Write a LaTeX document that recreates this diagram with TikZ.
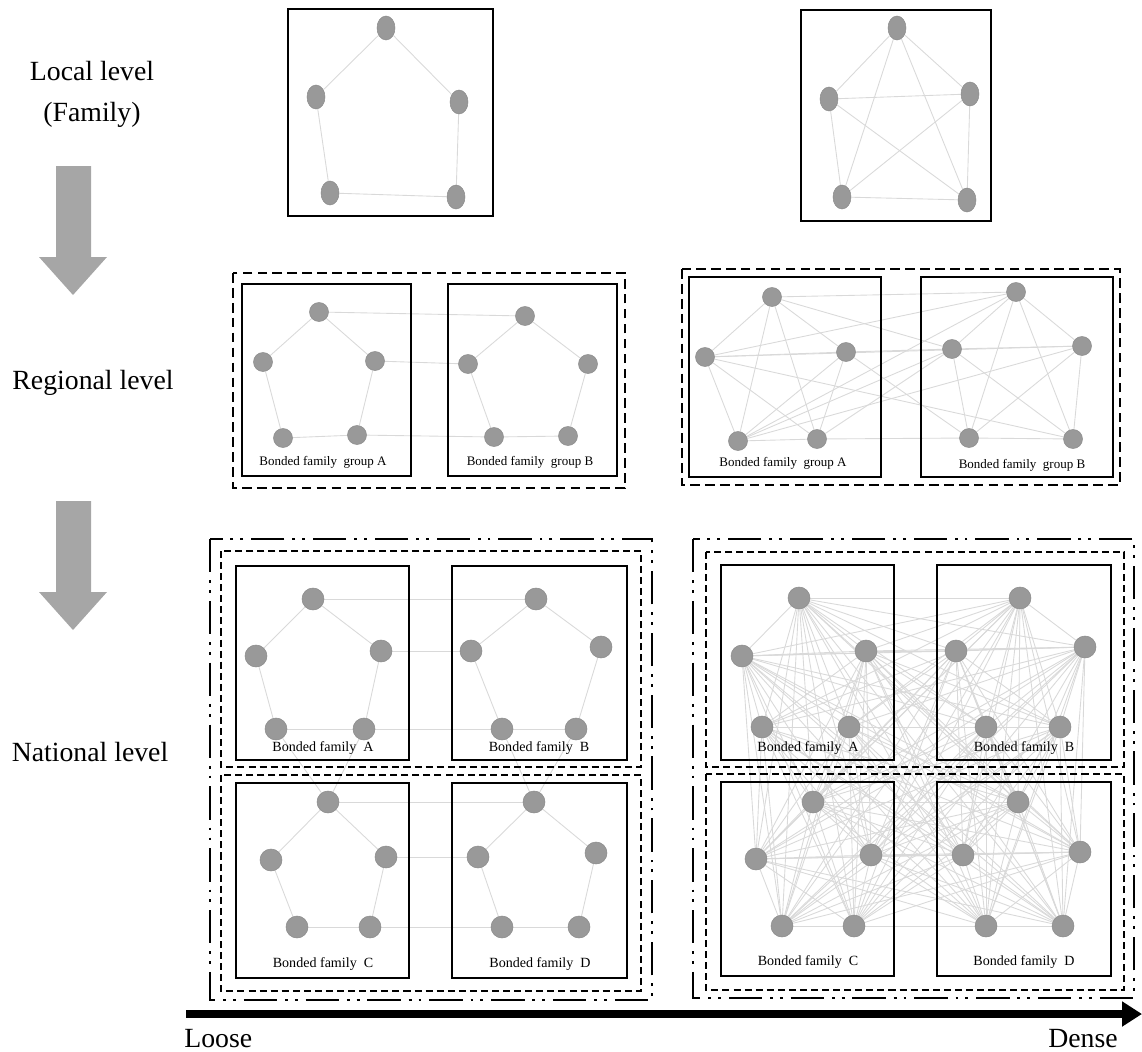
\documentclass[tikz,border=0pt]{standalone}
\usepackage{fontspec}
\setmainfont{Liberation Serif}
\usepackage{xcolor}
\usepackage{tikz}
\usetikzlibrary{arrows.meta,positioning,shapes.geometric,backgrounds}

\definecolor{nodegray}{HTML}{999999}
\definecolor{rimgray}{HTML}{8C8C8C}
\definecolor{edgegray}{HTML}{D9D9D9}
\definecolor{arrowgray}{HTML}{A6A6A6}

\begin{document}
\begin{tikzpicture}[x=0.02cm,y=-0.02cm,
  dot/.style={circle,fill=nodegray,draw=rimgray,line width=0.3pt,inner sep=0pt,minimum size=#1},
  egg/.style={ellipse,fill=nodegray,draw=rimgray,line width=0.3pt,inner sep=0pt,minimum width=0.36cm,minimum height=0.48cm},
  edge/.style={draw=edgegray,line width=0.5pt},
  frame/.style={draw=black,line width=1.6pt},
  grpbox/.style={draw=black,line width=1.6pt,dash pattern=on 5.5pt off 3pt},
  pairbox/.style={draw=black,line width=1pt,dash pattern=on 4pt off 2.3pt},
  nationbox/.style={draw=black,line width=1.6pt,dash pattern=on 19pt off 4.5pt on 1.6pt off 4pt on 1.6pt off 4.5pt},
  lvl/.style={font=\fontsize{15.8}{19}\selectfont,inner sep=0pt},
  tag/.style={font=\fontsize{8}{9}\selectfont,inner sep=0pt},
  tagsm/.style={font=\fontsize{7.4}{9}\selectfont,inner sep=0pt}]
\useasboundingbox (0,0) rectangle (1142,1051);

% level names
\node[lvl,anchor=base] (local) at (92,81) {Local level};
\node[lvl,anchor=base] (family) at (92,121) {(Family)};
\node[lvl,anchor=base] (regional) at (93,389) {Regional level};
\node[lvl,anchor=base] (national) at (90,761) {National level};

% grey arrows between levels
\foreach \t in {166,501}{
  \fill[arrowgray] (56,\t) -- (91,\t) -- (91,\t+91) -- (107,\t+91) -- (73,\t+129)
    -- (39,\t+91) -- (56,\t+91) -- cycle;
}

% local level
\draw[frame] (288,9) rectangle (493,216);
\draw[frame] (801,10) rectangle (991,221);
\foreach \n/\x/\y in {L1/386/28,L2/316/97,L3/459/102,L4/330/193,L5/456/197,
                      D1/897/28,D2/829/99,D3/970/94,D4/842/197,D5/967/200}{
  \node[egg] (\n) at (\x,\y) {};
}

% regional level
\draw[grpbox] (233,273) rectangle (625,488);
\draw[frame] (242,284) rectangle (411,476);
\draw[frame] (448,284) rectangle (617,476);
\draw[grpbox] (682,269) rectangle (1120,485);
\draw[frame] (689,277) rectangle (881,477);
\draw[frame] (921,277) rectangle (1113,477);
\foreach \n/\x/\y in {ra1/319/312,ra2/263/362,ra3/375/361,ra4/283/438,ra5/357/435,
                      rb1/525/316,rb2/468/364,rb3/588/364,rb4/494/437,rb5/568/436,
                      sa1/772/297,sa2/705/357,sa3/846/352,sa4/738/441,sa5/817/439,
                      sb1/1016/292,sb2/952/349,sb3/1082/346,sb4/969/438,sb5/1073/439}{
  \node[dot=0.38cm] (\n) at (\x,\y) {};
}
\node[tagsm] (labra) at (323,462) {Bonded family~ group A};
\node[tagsm] (labrb) at (530,462) {Bonded family~ group B};
\node[tagsm] (labsa) at (783,463) {Bonded family~ group A};
\node[tagsm] (labsb) at (1022,465) {Bonded family~ group B};

% national level
\draw[nationbox] (210,539) rectangle (652,1000);
\draw[pairbox] (221,551) rectangle (641,767);
\draw[pairbox] (221,775) rectangle (641,991);
\draw[nationbox] (693,539) rectangle (1134,998);
\draw[pairbox] (706,552) rectangle (1124,767);
\draw[pairbox] (706,774) rectangle (1124,990);
\foreach \xa/\xb/\ya/\yb in {236/409/566/760,452/627/566/760,236/409/783/978,452/627/783/978,
                             721/894/565/760,937/1111/565/760,721/894/782/976,937/1111/782/976}{
  \draw[frame] (\xa,\ya) rectangle (\xb,\yb);
}
\foreach \n/\x/\y in {na1/313/599,na2/256/656,na3/381/651,na4/276/729,na5/364/729,
                      nb1/536/599,nb2/471/651,nb3/601/647,nb4/502/729,nb5/576/729,
                      nc1/328/802,nc2/271/860,nc3/386/857,nc4/297/927,nc5/370/927,
                      nd1/534/802,nd2/478/857,nd3/596/853,nd4/502/927,nd5/579/927,
                      d1/799/598,d2/742/656,d3/866/651,d4/762/727,d5/849/727,
                      d6/1020/598,d7/956/651,d8/1085/647,d9/986/727,d10/1060/727,
                      d11/813/802,d12/756/859,d13/871/855,d14/782/926,d15/854/926,
                      d16/1018/802,d17/963/855,d18/1080/852,d19/986/926,d20/1063/926}{
  \node[dot=0.44cm] (\n) at (\x,\y) {};
}
\node[tag] (labna) at (323,748) {Bonded family~ A};
\node[tag] (labnb) at (539,748) {Bonded family~ B};
\node[tag] (labnc) at (323,964) {Bonded family~ C};
\node[tag] (labnd) at (540,964) {Bonded family~ D};
\node[tag] (labda) at (808,748) {Bonded family~ A};
\node[tag] (labdb) at (1024,748) {Bonded family~ B};
\node[tag] (labdc) at (808,962) {Bonded family~ C};
\node[tag] (labdd) at (1024,962) {Bonded family~ D};

% ties, kept behind the dots and frames
\begin{pgfonlayer}{background}
  \foreach \p in {L,ra,rb,na,nb,nc,nd}{
    \foreach \i/\j in {1/2,1/3,2/4,3/5,4/5} \draw[edge] (\p\i) -- (\p\j);
  }
  \foreach \p in {D,sa,sb}{
    \foreach \i/\j in {1/2,1/3,1/4,1/5,2/3,2/4,2/5,3/4,3/5,4/5} \draw[edge] (\p\i) -- (\p\j);
  }
  \foreach \a/\b in {ra1/rb1,ra3/rb2,ra5/rb4,
                     na1/nb1,na3/nb2,na5/nb4,nc1/nd1,nc3/nd2,nc5/nd4,
                     na4/nc1,na5/nc1,nb4/nd1,nb5/nd1,
                     sa1/sb1,sa1/sb2,sa2/sb1,sa2/sb3,sa3/sb2,sa2/sb5,sa3/sb4,
                     sa4/sb1,sa4/sb2,sa4/sb3,sa5/sb4,sa5/sb2}{
    \draw[edge] (\a) -- (\b);
  }
  \foreach \i in {1,...,19}{
    \pgfmathtruncatemacro{\k}{\i+1}
    \foreach \j in {\k,...,20} \draw[edge] (d\i) -- (d\j);
  }
\end{pgfonlayer}

% loose -> dense axis
\coordinate (axstart) at (186,1014);
\coordinate (axend) at (1142,1014);
\draw[line width=4.5pt,-{Triangle[length=0.4cm,width=0.48cm]}] (axstart) -- (axend);
\node[lvl,anchor=base west] (loose) at (184,1047) {Loose};
\node[lvl,anchor=base east] (dense) at (1118,1047) {Dense};
\end{tikzpicture}
\end{document}
